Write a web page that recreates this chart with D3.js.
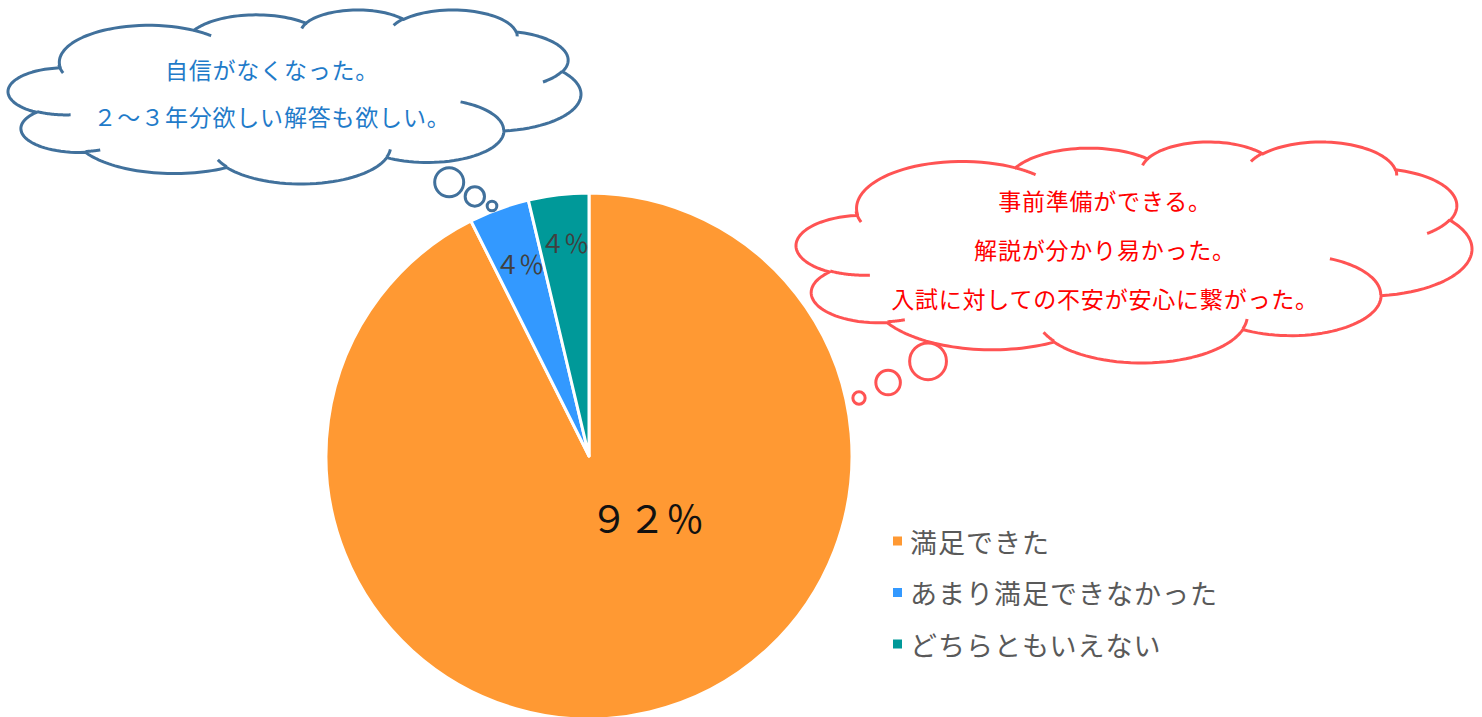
<!DOCTYPE html>
<html><head><meta charset="utf-8">
<script src="https://cdn.jsdelivr.net/npm/d3@7"></script>
<style>html,body{margin:0;padding:0;background:#fff;overflow:hidden}</style>
</head><body>
<svg id="chart" width="1482" height="717"></svg>
<script>
// ---- data ----
const categories = ["満足できた", "あまり満足できなかった", "どちらともいえない"];
const counts = [25, 1, 1];
const labels = ["９２％", "４％", "４％"];
const colors = ["#FF9933", "#3399FF", "#009999"];
const blueComments = ["自信がなくなった。", "２～３年分欲しい解答も欲しい。"];
const redComments = ["事前準備ができる。", "解説が分かり易かった。", "入試に対しての不安が安心に繋がった。"];

const svg = d3.select("#chart");
const FONT = "'Noto Sans CJK JP','Noto Sans',sans-serif";

// ---- pie ----
const cx = 589, cy = 456, R = 263;
const pie = d3.pie().sort(null).value(d => d)(counts);
const arc = d3.arc().innerRadius(0).outerRadius(R);
const g = svg.append("g").attr("transform", `translate(${cx},${cy})`);
g.selectAll("path.slice").data(pie).join("path")
  .attr("class", "slice")
  .attr("d", arc)
  .attr("fill", (d, i) => colors[i])
  .attr("stroke", "#fff").attr("stroke-width", 3).attr("stroke-linejoin", "round");

// labels (best-fit style placement)
const labelRadius = [0, 205, 215];
g.selectAll("text.lbl").data(pie).join("text")
  .attr("class", "lbl")
  .attr("transform", (d, i) => {
    if (i === 0) return `translate(58,60)`;
    const c = d3.arc().innerRadius(labelRadius[i]).outerRadius(labelRadius[i]).centroid(d);
    return `translate(${c[0]},${c[1]})`;
  })
  .attr("text-anchor", "middle").attr("dominant-baseline", "central")
  .attr("font-family", FONT)
  .attr("font-size", (d, i) => i === 0 ? 38 : 25)
  .attr("letter-spacing", (d, i) => i === 0 ? 0 : -1)
  .attr("fill", (d, i) => i === 0 ? "#111" : "#404040")
  .text((d, i) => labels[i]);

// ---- legend ----
const lg = svg.append("g").attr("transform", "translate(893,541)");
categories.forEach((c, i) => {
  const row = lg.append("g").attr("transform", `translate(0,${i * 51.5})`);
  row.append("rect").attr("x", 0).attr("y", -4.5).attr("width", 9).attr("height", 9).attr("fill", colors[i]);
  row.append("text").attr("x", 17).attr("y", 0).attr("dominant-baseline", "central")
    .attr("font-family", FONT).attr("font-size", 27).attr("letter-spacing", 1).attr("fill", "#595959").text(c);
});

// ---- cloud callouts (DrawingML "cloudCallout" geometry) ----
const cloudStart = [3900, 14370];
const cloudArcs = [[6753,9190,-11429249,7426832],[5333,7267,-8646143,5396714],[4365,5945,-8748475,5983381],[4857,6595,-7859164,7034504],[5333,7273,-4722533,6541615],[6775,9220,-2776035,7816140],[5785,7867,37501,6842000],[6752,9215,1347096,6910353],[7720,10543,3974558,4542661],[4360,5918,-16496525,8804134],[4345,5945,-14809710,9151131]];
const innerArcs = [[4693,26177,4345,5945,5204520,1585770],[6928,34899,4360,5918,4416628,686848],[16478,39090,6752,9215,8257449,844866],[28827,34751,6752,9215,387196,959901],[34129,22954,5785,7867,-4217541,4255042],[41798,15354,5333,7273,1819082,1665090],[38324,5426,4857,6595,-824660,891534],[29078,3952,4857,6595,-8950887,1091722],[22141,4720,4365,5945,-9809656,1061181],[14000,5192,6753,9190,-4002417,739161],[4127,15789,6753,9190,9338831,1045414]];

function arcPts(cur, wR, hR, st, sw) {
  const toRad = a => a / 60000 * Math.PI / 180;
  const par = th => Math.atan2(wR * Math.sin(th), hR * Math.cos(th));
  const t0 = par(toRad(st));
  const ccx = cur[0] - wR * Math.cos(t0), ccy = cur[1] - hR * Math.sin(t0);
  const pts = [];
  const N = 40;
  for (let k = 1; k <= N; k++) {
    const t = par(toRad(st + sw * k / N));
    pts.push([ccx + wR * Math.cos(t), ccy + hR * Math.sin(t)]);
  }
  return pts;
}
function unitCloud() {
  let cur = cloudStart.slice();
  const outline = [cur];
  cloudArcs.forEach(a => { const p = arcPts(cur, a[0], a[1], a[2], a[3]); outline.push(...p); cur = p[p.length - 1]; });
  const inner = innerArcs.map(a => [[a[0], a[1]], ...arcPts([a[0], a[1]], a[2], a[3], a[4], a[5])]);
  return { outline, inner };
}
const U = unitCloud();
const ux0 = d3.min(U.outline, p => p[0]), ux1 = d3.max(U.outline, p => p[0]);
const uy0 = d3.min(U.outline, p => p[1]), uy1 = d3.max(U.outline, p => p[1]);

function drawCloud(ext, tail, stroke, textColor, lines, textCx, textY0, lineGap) {
  const [L, Rt, T, B] = ext;
  const w = (Rt - L) / (ux1 - ux0) * 43200, h = (B - T) / (uy1 - uy0) * 43200;
  const x0 = L - ux0 / 43200 * w, y0 = T - uy0 / 43200 * h;
  const sx = d3.scaleLinear().domain([0, 43200]).range([x0, x0 + w]);
  const sy = d3.scaleLinear().domain([0, 43200]).range([y0, y0 + h]);
  const line = d3.line().x(p => sx(p[0])).y(p => sy(p[1]));
  const cg = svg.append("g");
  // thought bubbles
  const hc = x0 + w / 2, vc = y0 + h / 2, wd2 = w / 2, hd2 = h / 2, ss = Math.min(w, h);
  const xPos = tail[0], yPos = tail[1];
  const ang = Math.atan2(yPos - vc, xPos - hc);
  const ht = hd2 * Math.cos(ang), wt = wd2 * Math.sin(ang);
  const a2 = Math.atan2(wt, ht);
  const g4 = hc + wd2 * Math.cos(a2), g5 = vc + hd2 * Math.sin(a2);
  const g6 = g4 - xPos, g7 = g5 - yPos, g8 = Math.hypot(g6, g7);
  const g9 = ss * 6600 / 21600, g11 = (g8 - g9) / 3, g12 = ss * 1800 / 21600;
  const g13 = g11 + g12;
  const g20 = ss * 4800 / 21600 + 2 * g11;
  const bubbles = [
    [xPos, yPos, ss * 600 / 21600],
    [g13 * g6 / g8 + xPos, g13 * g7 / g8 + yPos, ss * 1200 / 21600],
    [g20 * g6 / g8 + xPos, g20 * g7 / g8 + yPos, g12]];
  cg.selectAll("circle").data(bubbles).join("circle")
    .attr("cx", d => d[0]).attr("cy", d => d[1]).attr("r", d => d[2])
    .attr("fill", "#fff").attr("stroke", stroke).attr("stroke-width", 3);
  cg.append("path").attr("d", line(U.outline) + "Z")
    .attr("fill", "#fff").attr("stroke", stroke).attr("stroke-width", 3).attr("stroke-linejoin", "round");
  cg.selectAll("path.inner").data(U.inner).join("path").attr("class", "inner")
    .attr("d", d => line(d)).attr("fill", "none").attr("stroke", stroke).attr("stroke-width", 3);
  cg.selectAll("text").data(lines).join("text")
    .attr("x", textCx).attr("y", (d, i) => textY0 + i * lineGap)
    .attr("text-anchor", "middle").attr("dominant-baseline", "central")
    .attr("font-family", FONT).attr("font-size", 23).attr("letter-spacing", 0.8)
    .attr("fill", textColor).text(d => d);
}
drawCloud([8, 581, 10, 184], [492, 206], "#41719C", "#1F7BC9", blueComments, 272, 69, 47);
drawCloud([796, 1472, 142, 363], [859, 398], "#FF5353", "#FF0000", redComments, 1105, 200, 49);
</script>
</body></html>
